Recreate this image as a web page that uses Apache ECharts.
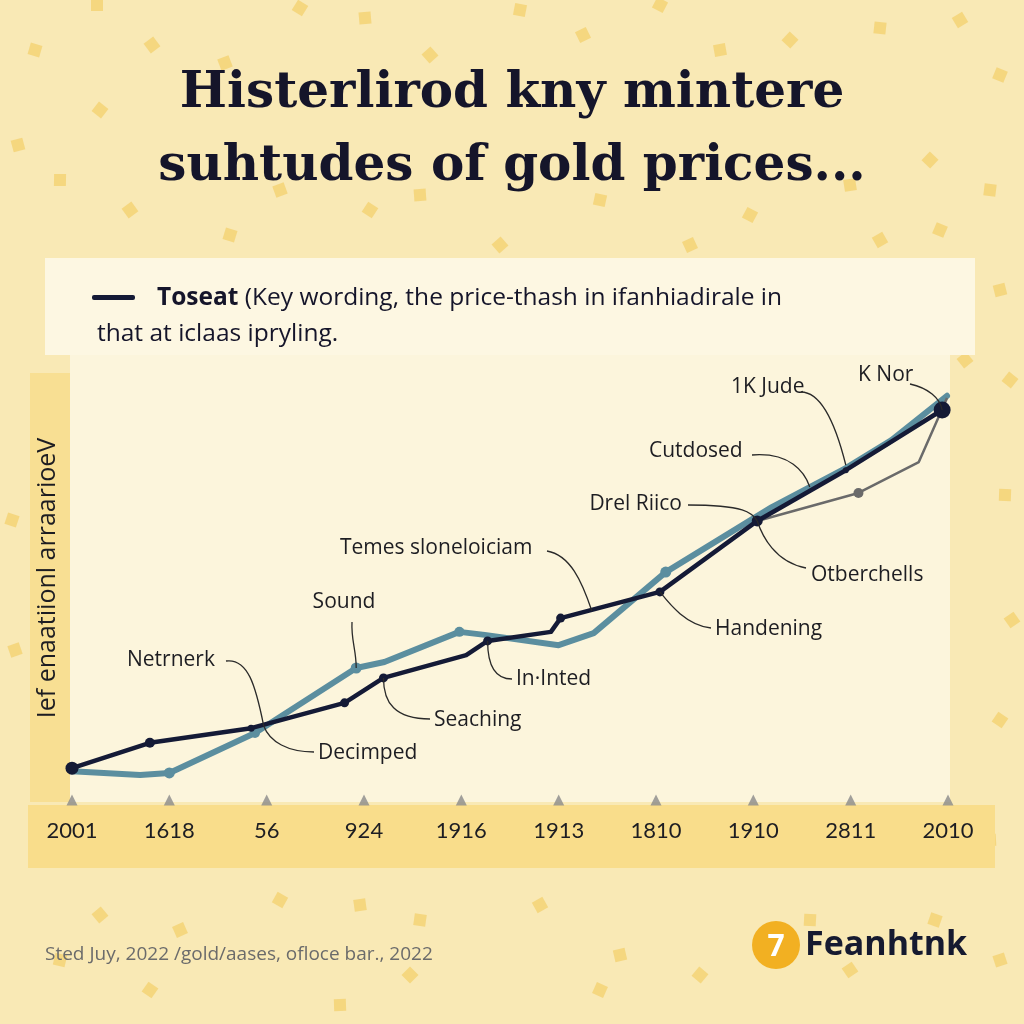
<!DOCTYPE html>
<html>
<head>
<meta charset="utf-8">
<script src="https://cdn.jsdelivr.net/npm/echarts@6/dist/echarts.min.js"></script>
<style>html,body{margin:0;padding:0;background:#f9e9b5;}#c{width:1024px;height:1024px;}</style>
</head>
<body>
<div id="c"></div>
<script>
// ---- data ----
const categories = ['2001','1618','56','924','1916','1913','1810','1910','2811','2010'];
const darkX = [0, 0.80, 1.84, 2.80, 3.20, 4.05, 4.27, 4.92, 5.02, 6.04, 7.04, 7.95, 8.94];
const darkY = [7.4, 13.3, 16.7, 22.6, 28.4, 33.7, 37.0, 39.1, 42.3, 48.4, 64.9, 76.7, 90.7];
const tealX = [0, 0.70, 1.00, 1.88, 2.92, 3.21, 3.98, 4.24, 5.00, 5.36, 6.10, 7.19, 7.95, 8.42, 8.99];
const tealY = [6.7, 5.8, 6.3, 15.6, 30.7, 32.1, 39.1, 38.4, 36.0, 38.8, 53.0, 68.1, 77.2, 83.7, 94.0];
const grayX = [7.04, 8.08, 8.70, 8.99];
const grayY = [64.9, 71.4, 78.6, 93.5];

const titleLines = ['Histerlirod kny mintere', 'suhtudes of gold prices...'];
const legendBold = 'Toseat';
const legendText1 = ' (Key wording, the price-thash in ifanhiadirale in';
const legendText2 = 'that at iclaas ipryling.';
const yAxisName = 'Ief enaatiionl arraarioeV';
const footerText = 'Sted Juy, 2022 /gold/aases, ofloce bar., 2022';
const brandText = 'Feanhtnk';

// annotation texts and the data point / coordinate they point to
const annoTexts = ['Netrnerk','Decimped','Sound','Seaching','In\u00b7Inted','Temes sloneloiciam','Handening','Drel Riico','Otberchells','Cutdosed','1K Jude','K Nor'];
const annoTargets = [[1.97,17.2],[1.97,17.2],['teal',4],['dark',4],['dark',6],[5.34,44.0],['dark',9],['dark',10],['dark',10],[7.58,72.8],[7.95,77.9],['dark',12]];

// ---- styles / layout (not data) ----
const darkSizes = [13,10,7,9,9,0,9,0,9,9,11,6,17];
const tealSizes = [0,0,11,10,11,0,10,0,0,0,11,0,0,0,0];
const graySizes = [0,10,0,0];
const annoLayout = [
  {x:127,y:660,align:'left', s:[226,661], c1:[248,658], c2off:[-8,-40]},
  {x:318,y:753,align:'left', s:[314,752], c1:[288,752], c2off:[6,16]},
  {x:344,y:602,align:'center', s:[352,622], c1:[351,640], c2off:[0,-18]},
  {x:434,y:720,align:'left', s:[430,719], c1:[395,719], c2off:[0,25]},
  {x:516,y:679,align:'left', s:[512,679], c1:[490,679], c2off:[0,15]},
  {x:340,y:548,align:'left', s:[547,551], c1:[570,555], c2off:[-10,-30]},
  {x:715,y:629,align:'left', s:[711,628], c1:[685,625], c2off:[8,10]},
  {x:682,y:504,align:'right', s:[688,505], c1:[745,505], c2off:[-5,-8]},
  {x:811,y:575,align:'left', s:[806,568], c1:[775,562], c2off:[5,15]},
  {x:649,y:451,align:'left', s:[752,455], c1:[790,452], c2off:[-5,-15]},
  {x:731,y:387,align:'left', s:[801,392], c1:[822,392], c2off:[-10,-40]},
  {x:858,y:375,align:'left', s:[910,384], c1:[928,388], c2off:[-2,-12]}
];
const confetti = [[97,5],[152,45],[35,50],[225,63],[300,8],[365,18],[430,55],[520,10],[583,35],[660,5],[720,50],[790,40],[880,28],[960,20],[1000,75],[18,145],[100,110],[60,180],[130,210],[230,235],[280,190],[370,210],[420,195],[500,245],[600,200],[690,245],[750,215],[850,185],[930,160],[990,190],[880,240],[940,230],[1000,290],[1010,380],[1005,495],[1012,620],[12,520],[15,650],[1000,720],[990,840],[100,915],[60,960],[180,930],[280,900],[360,905],[410,975],[420,920],[540,905],[600,990],[620,955],[700,975],[810,920],[850,970],[935,920],[1000,960],[150,990],[340,1005],[965,360],[940,372]];

const DARK = '#141a36', TEAL = '#5b8e9f', GRAY = '#6a6a6a';
const sansFont = '"Open Sans", Lato, sans-serif';

const chart = echarts.init(document.getElementById('c'), null, {renderer:'canvas'});

const pts = (xs, ys) => xs.map((x,i) => [x, ys[i]]);

const option = {
  backgroundColor: '#f9e9b5',
  animation: false,
  grid: {left:72, right:76, top:370, bottom:224},
  xAxis: [
    {type:'value', min:0, max:9, show:false},
    {type:'category', data:categories, boundaryGap:false, position:'bottom',
     axisLine:{show:false}, axisTick:{show:false}, splitLine:{show:false},
     axisLabel:{margin:20, fontSize:22, color:'#1d1d22', fontFamily:'Lato, sans-serif', interval:0}}
  ],
  yAxis: {type:'value', min:0, max:100, show:false},
  series: [
    {type:'line', name:'teal', xAxisIndex:0, data:pts(tealX,tealY), z:3,
     lineStyle:{color:TEAL, width:6, join:'round', cap:'round'},
     itemStyle:{color:TEAL}, symbol:'circle', showAllSymbol:true,
     symbolSize:(v,p)=>tealSizes[p.dataIndex]},
    {type:'line', name:'gray', xAxisIndex:0, data:pts(grayX,grayY), z:4,
     lineStyle:{color:GRAY, width:2.5}, itemStyle:{color:GRAY}, symbol:'circle', showAllSymbol:true,
     symbolSize:(v,p)=>graySizes[p.dataIndex]},
    {type:'line', name:'dark', xAxisIndex:0, data:pts(darkX,darkY), z:5,
     lineStyle:{color:DARK, width:4.5, join:'round'}, itemStyle:{color:DARK}, symbol:'circle', showAllSymbol:true,
     symbolSize:(v,p)=>darkSizes[p.dataIndex]},
    {type:'scatter', xAxisIndex:1, data:categories.map(c=>[c,0]), symbol:'triangle', symbolSize:[11,11],
     itemStyle:{color:'#8a8a8a'}, clip:false, z:6}
  ]
};
chart.setOption(option);

function px(t){
  let d = t;
  if (typeof t[0] === 'string') {
    const s = t[0]==='dark' ? [darkX,darkY] : t[0]==='teal' ? [tealX,tealY] : [grayX,grayY];
    d = [s[0][t[1]], s[1][t[1]]];
  }
  return chart.convertToPixel({xAxisIndex:0, yAxisIndex:0}, d);
}

const g = [];
confetti.forEach((c,i)=>{
  g.push({type:'rect', shape:{x:-6,y:-6,width:12,height:12}, x:c[0], y:c[1], rotation:(i*37%90)*Math.PI/180,
    style:{fill:'#f3d06e', opacity:0.75}, z:-10});
});
g.push({type:'rect', shape:{x:45,y:258,width:930,height:97}, style:{fill:'#fdf7e2'}, z:-5});
g.push({type:'rect', shape:{x:70,y:355,width:880,height:447}, style:{fill:'#fcf5dc'}, z:-5});
g.push({type:'rect', shape:{x:30,y:373,width:40,height:429}, style:{fill:'#f8df93'}, z:-4});
g.push({type:'rect', shape:{x:28,y:805,width:967,height:63}, style:{fill:'#f9dd8b'}, z:-4});
titleLines.forEach((t,i)=>{
  g.push({type:'text', x:512, y:94 + i*73, style:{text:t, fill:'#15152a', font:'bold 50px "DejaVu Serif", serif', textAlign:'center', textVerticalAlign:'middle'}, z:10});
});
g.push({type:'rect', shape:{x:92,y:295,width:43,height:5, r:2}, style:{fill:DARK}, z:10});
g.push({type:'text', x:157, y:298, style:{
  text:'{b|'+legendBold+'}{n|'+legendText1+'}', textVerticalAlign:'middle',
  rich:{b:{font:'bold 24.5px '+sansFont, fill:'#15152a'}, n:{font:'24.5px '+sansFont, fill:'#15152a'}}}, z:10});
g.push({type:'text', x:97, y:334, style:{text:legendText2, font:'24.5px '+sansFont, fill:'#15152a', textVerticalAlign:'middle'}, z:10});
g.push({type:'text', x:48, y:578, rotation:Math.PI/2, style:{text:yAxisName, font:'25px '+sansFont, fill:'#1d1d22', textAlign:'center', textVerticalAlign:'middle'}, z:10});
annoTexts.forEach((t,i)=>{
  const L = annoLayout[i];
  const a = px(annoTargets[i]);
  g.push({type:'text', x:L.x, y:L.y, style:{text:t, font:'21px '+sansFont, fill:'#1d1d22', textAlign:L.align, textVerticalAlign:'middle'}, z:20});
  g.push({type:'bezierCurve', shape:{x1:L.s[0], y1:L.s[1], cpx1:L.c1[0], cpy1:L.c1[1], cpx2:a[0]+L.c2off[0], cpy2:a[1]+L.c2off[1], x2:a[0], y2:a[1]},
    style:{stroke:'#2a2a2a', lineWidth:1.3, fill:null}, z:20});
});
g.push({type:'text', x:45, y:955, style:{text:footerText, font:'19px '+sansFont, fill:'#6b6b6b', textVerticalAlign:'middle'}, z:10});
g.push({type:'circle', shape:{cx:776, cy:945, r:24}, style:{fill:'#f2b022'}, z:10});
g.push({type:'text', x:776, y:947, style:{text:'7', font:'bold 30px '+sansFont, fill:'#ffffff', textAlign:'center', textVerticalAlign:'middle'}, z:11});
g.push({type:'text', x:805, y:945, style:{text:brandText, font:'bold 34px '+sansFont, fill:'#161a30', textVerticalAlign:'middle'}, z:10});

chart.setOption({graphic: g});
</script>
</body>
</html>
